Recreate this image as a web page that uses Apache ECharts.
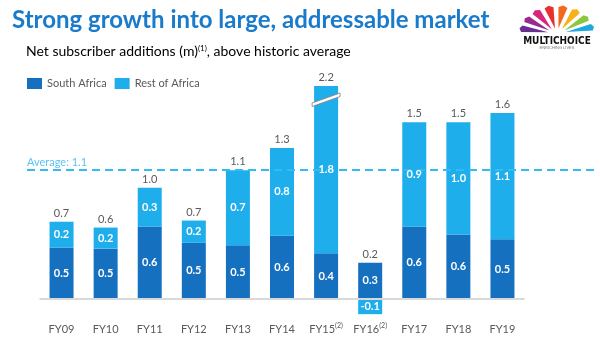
<!DOCTYPE html>
<html>
<head>
<meta charset="utf-8">
<script src="https://cdn.jsdelivr.net/npm/echarts@6/dist/echarts.min.js"></script>
<style>html,body{margin:0;padding:0;background:#fff}#c{width:600px;height:339px}</style>
</head>
<body>
<div id="c"></div>
<script>
var categories = ['FY09','FY10','FY11','FY12','FY13','FY14','FY15(2)','FY16(2)','FY17','FY18','FY19'];
var southAfrica = [0.44,0.43,0.62,0.48,0.46,0.54,0.39,0.31,0.62,0.55,0.51];
var restOfAfrica = [0.22,0.18,0.33,0.19,0.64,0.75,1.80,-0.13,0.89,0.96,1.08];
var southAfricaLabels = ['0.5','0.5','0.6','0.5','0.5','0.6','0.4','0.3','0.6','0.6','0.5'];
var restOfAfricaLabels = ['0.2','0.2','0.3','0.2','0.7','0.8','1.8','-0.1','0.9','1.0','1.1'];
var totalLabels = ['0.7','0.6','1.0','0.7','1.1','1.3','2.2','0.2','1.5','1.5','1.6'];
var historicAverage = 1.1;

var Y_MIN = -0.15, Y_MAX = 1.82;
var FONT = 'Lato, "Open Sans", sans-serif';
var SA_COLOR = '#1570c0', ROA_COLOR = '#1eaeec';

var chart = echarts.init(document.getElementById('c'), null, {renderer: 'canvas'});

var labelData = categories.map(function (c, i) {
  return [i, southAfrica[i] + Math.max(restOfAfrica[i], 0), southAfrica[i], restOfAfrica[i]];
});

// logo petals (decoration)
var petalColors = ['#6a2d91','#9b2a8e','#d9257d','#e8312f','#f26a21','#f7b11b','#8cc63f','#1fa8e0'];
var logo = [];
var cx = 557, cy = 33;
for (var k = 0; k < petalColors.length; k++) {
  var a0 = Math.PI * (1 - (k + 0.1) / petalColors.length);
  var a1 = Math.PI * (1 - (k + 0.75) / petalColors.length);
  var am = (a0 + a1) / 2;
  var rx = 36, ry = 26, r0 = 9;
  logo.push({
    type: 'polygon',
    shape: {points: [
      [cx + r0 * Math.cos(am), cy - r0 * 0.5 * Math.sin(am)],
      [cx + rx * Math.cos(a0), cy - ry * Math.sin(a0)],
      [cx + (rx + 2) * Math.cos(am), cy - (ry + 2) * Math.sin(am)],
      [cx + rx * Math.cos(a1), cy - ry * Math.sin(a1)]
    ]},
    style: {fill: petalColors[k]}
  });
}
logo.push({type: 'text', style: {text: 'MULTICHOICE', x: 557, y: 36, align: 'center', verticalAlign: 'top', fill: '#111', font: 'bold 10px "DejaVu Sans Condensed", sans-serif'}});
logo.push({type: 'text', style: {text: 'ENRICHING LIVES', x: 557, y: 46, align: 'center', verticalAlign: 'top', fill: '#777', font: '4px sans-serif'}});

var option = {
  animation: false,
  backgroundColor: '#fff',
  textStyle: {fontFamily: FONT},
  title: [
    {text: 'Strong growth into large, addressable market', left: 7, top: 3,
     textStyle: {color: '#1a7bcb', fontSize: 24, fontWeight: 'bold', fontFamily: FONT}},
    {text: 'Net subscriber additions (m){s|(1)}, above historic average', left: 21, top: 39,
     textStyle: {color: '#000', fontSize: 14, fontWeight: 'normal', fontFamily: FONT,
       rich: {s: {fontSize: 8, verticalAlign: 'top', color: '#000', fontFamily: FONT}}}}
  ],
  legend: {
    left: 22, top: 73, itemWidth: 15, itemHeight: 11, itemGap: 8, icon: 'rect',
    data: ['South Africa', 'Rest of Africa'],
    textStyle: {color: '#595959', fontSize: 11, fontFamily: FONT}
  },
  graphic: logo,
  grid: {left: 39.5, right: 75.5, top: 86, bottom: 22.5, containLabel: false},
  xAxis: {
    type: 'category', data: categories,
    axisLine: {show: false, onZero: false}, axisTick: {show: false},
    axisLabel: {
      interval: 0, margin: 6, color: '#595959', fontSize: 11, fontFamily: FONT,
      formatter: function (v) {
        var p = v.indexOf('(');
        return p < 0 ? '{a|' + v + '}' : '{a|' + v.slice(0, p) + '}{s|' + v.slice(p) + '}';
      },
      rich: {a: {fontSize: 11, color: '#595959', fontFamily: FONT, lineHeight: 13},
             s: {fontSize: 7, color: '#595959', fontFamily: FONT, verticalAlign: 'top'}}
    }
  },
  yAxis: {type: 'value', min: Y_MIN, max: Y_MAX, show: false, splitLine: {show: false}},
  series: [
    {
      name: 'South Africa', type: 'bar', stack: 'subs', barWidth: 24, clip: true,
      data: southAfrica, itemStyle: {color: SA_COLOR},
      label: {show: true, position: 'inside', color: '#fff', fontWeight: 'bold', fontSize: 11, fontFamily: FONT,
        formatter: function (p) { return southAfricaLabels[p.dataIndex]; }},
      markLine: {silent: true, symbol: 'none', label: {show: false},
        lineStyle: {color: '#d9d9d9', width: 2, type: 'solid'},
        data: [{yAxis: 0}]}
    },
    {
      name: 'Rest of Africa', type: 'bar', stack: 'subs', barWidth: 24, clip: true,
      data: restOfAfrica, itemStyle: {color: ROA_COLOR}
    },
    {
      name: 'Average', type: 'line', data: [], clip: false, z: 1,
      markLine: {
        silent: true, symbol: 'none', z: 3,
        lineStyle: {color: '#33bbf3', width: 2, type: [8, 5]},
        label: {show: true, position: 'insideStartTop', distance: [0, 2], color: '#5cc3f2', fontSize: 11, fontFamily: FONT,
          formatter: function () { return 'Average: ' + historicAverage.toFixed(1); }},
        data: [[{xAxis: 0, x: 27, yAxis: historicAverage}, {xAxis: 10, x: 598, yAxis: historicAverage}]]
      }
    },
    {
      name: 'Labels', type: 'custom', data: labelData, clip: false, z: 6,
      encode: {x: 0, y: 1},
      renderItem: function (params, api) {
        var i = api.value(0), top = api.value(1), sa = api.value(2), roa = api.value(3);
        var shown = Math.min(top, Y_MAX);
        var p = api.coord([i, shown]);
        var children = [{
          type: 'text',
          style: {text: totalLabels[i], x: p[0], y: p[1] - 3, align: 'center', verticalAlign: 'bottom',
                  fill: '#595959', fontSize: 11, fontFamily: FONT}
        }];
        // Rest of Africa label, centred in the visible part of its segment
        var lo = roa >= 0 ? sa : roa, hi = roa >= 0 ? shown : 0;
        var pm = api.coord([i, (lo + hi) / 2]);
        children.push({
          type: 'text',
          style: {text: restOfAfricaLabels[i], x: pm[0], y: pm[1], align: 'center', verticalAlign: 'middle',
                  fill: '#fff', fontSize: 11, fontWeight: 'bold', fontFamily: FONT}
        });
        if (top > Y_MAX) {
          var hw = 14, x = p[0], y = p[1];
          children.push({
            type: 'polygon',
            shape: {points: [[x - hw, y + 17], [x + hw, y + 7], [x + hw, y + 10.5], [x - hw, y + 20.5]]},
            style: {fill: '#fff', stroke: '#7f7f7f', lineWidth: 0.8}
          });
        }
        return {type: 'group', children: children};
      }
    }
  ]
};
chart.setOption(option);
</script>
</body>
</html>
